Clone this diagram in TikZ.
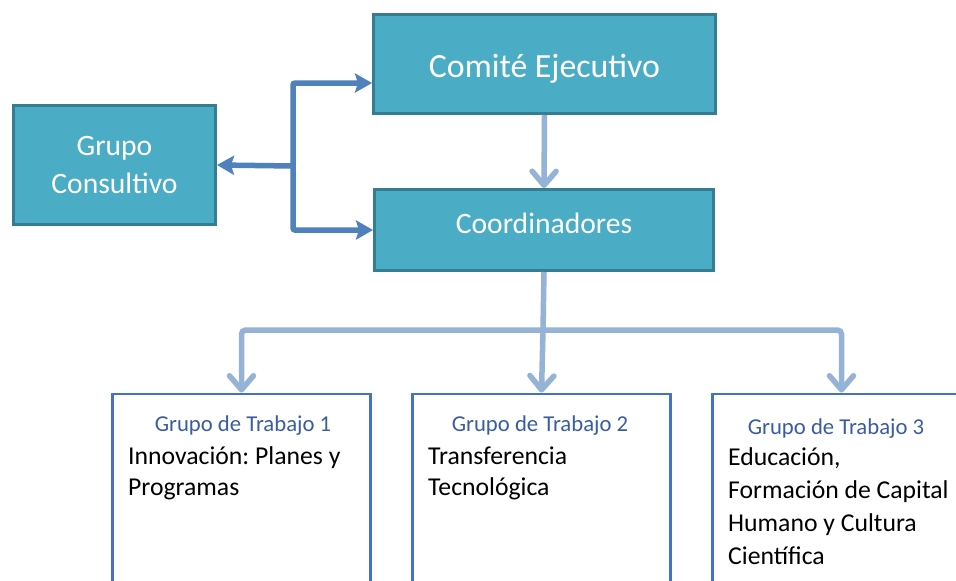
\documentclass[tikz,border=0pt]{standalone}
\usepackage{fontspec}
\setmainfont{Carlito}
\usetikzlibrary{arrows.meta}
\definecolor{tealfill}{HTML}{4BACC6}
\definecolor{tealdraw}{HTML}{357D91}
\definecolor{darkblue}{HTML}{4F81BD}
\definecolor{lightblue}{HTML}{95B3D7}
\definecolor{boxblue}{HTML}{4472C4}
\definecolor{titleblue}{HTML}{3A5DA0}
\frenchspacing
\begin{document}
\begin{tikzpicture}[x=1pt,y=-1pt,
  tealbox/.style={draw=tealdraw, fill=tealfill, line width=3pt, text=white, inner sep=0pt},
  wgbox/.style={draw=boxblue, line width=2.8pt, minimum width=258pt, minimum height=250pt, inner sep=0pt, anchor=north},
  gtitle/.style={text=titleblue, font=\fontsize{22.7}{28}\selectfont, inner sep=0pt, anchor=base},
  gbody/.style={text=black, font=\fontsize{25.7}{31.5}\selectfont, align=left, inner sep=0pt, anchor=base west},
  gbodyb/.style={text=black, font=\fontsize{25.7}{33}\selectfont, align=left, inner sep=0pt, anchor=base west},
  darkline/.style={draw=darkblue, line width=5.5pt, rounded corners=2pt, -{Stealth[length=17pt,width=19pt,inset=3pt]}},
  lightline/.style={draw=lightblue, line width=5.5pt, rounded corners=4pt, -{Straight Barb[length=14pt,width=24pt,line cap=round,line join=round]}},
  lightplain/.style={draw=lightblue, line width=5.5pt}
]
\useasboundingbox (0,0) rectangle (956,581);
\clip (0,0) rectangle (956,581);
\fill[white] (0,0) rectangle (956,581);

% top boxes
\node[tealbox, minimum width=342pt, minimum height=99pt, text height=26pt, text depth=0pt, font=\fontsize{33.8}{40}\selectfont] (comite) at (544.5,64) {Comité Ejecutivo};
\node[tealbox, minimum width=339pt, minimum height=81pt, text height=6pt, text depth=0pt, font=\fontsize{29.6}{36}\selectfont] (coord) at (544,230) {Coordinadores};
\node[tealbox, minimum width=202pt, minimum height=119pt, align=center, font=\fontsize{29.6}{38}\selectfont] (consult) at (114.5,165) {Grupo\\Consultivo};

% working group boxes
\node[wgbox] (g1) at (241.5,392.5) {};
\node[wgbox] (g2) at (541.5,392.5) {};
\node[wgbox] (g3) at (841.5,392.5) {};

\node[gtitle] (t1) at (243,431) {Grupo de Trabajo 1};
\node[gtitle] (t2) at (540,431) {Grupo de Trabajo 2};
\node[gtitle] (t3) at (836,434) {Grupo de Trabajo 3};

% anchor=base of a multi-line node is the last line's baseline
\node[gbody] (b1) at (128,495.5) {Innovación: Planes y\\Programas};
\node[gbody] (b2) at (428,495.5) {Transferencia\\Tecnológica};
\node[gbodyb] (b3) at (728,564) {Educación,\\Formación de Capital\\Humano y Cultura\\Científica};

% dark connectors
\coordinate (j) at (293,166);
\draw[darkline] (j) -- (consult.east);
\draw[darkline] (j) |- ([yshift=-19pt]comite.west);
\draw[darkline] (j) |- (coord.west);

% light connectors
\draw[lightline] (comite.south) -- (coord.north);
\coordinate (bus) at (543,330);
\draw[lightplain] (coord.south) -- (bus);
\draw[lightline] (bus) -- (g2.north);
\draw[lightline] (bus) -| (g1.north);
\draw[lightline] (bus) -| (g3.north);
\end{tikzpicture}
\end{document}
